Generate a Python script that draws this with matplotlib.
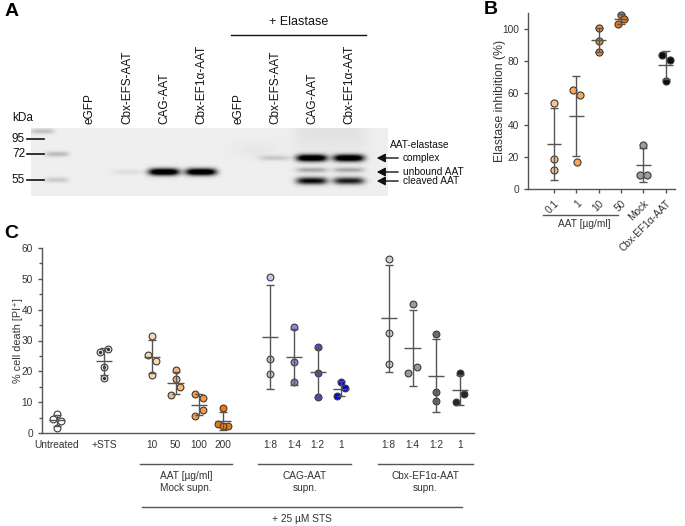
import numpy as np
import matplotlib
matplotlib.use("Agg")
import matplotlib.pyplot as plt
from matplotlib.ticker import MultipleLocator

plt.rcParams["font.family"] = ["Liberation Sans", "DejaVu Sans"]

W, H = 685, 526
TXT = "#333333"
LINE = "#555555"


def rect(x0, y0, x1, y1):
    # pixel box -> figure fraction
    return [x0 / W, 1 - y1 / H, (x1 - x0) / W, (y1 - y0) / H]


# ---------------- panel A: western blot ----------------
lane_labels = ["eGFP", "Cbx-EFS-AAT", "CAG-AAT", "Cbx-EF1α-AAT",
               "eGFP", "Cbx-EFS-AAT", "CAG-AAT", "Cbx-EF1α-AAT"]
marker_kda = ["95", "72", "55"]
marker_mig = [139, 154, 180]
# bands: lane index, migration, intensity (marker lane = -0.95)
band_lane = [1, 2, 3, 5, 6, 6, 6, 7, 7, 7, -0.9, -0.9, -1.3]
band_mig = [172, 172, 172, 158, 158, 170, 181, 158, 170, 181, 154, 180, 131]
band_int = [0.07, 1.3, 1.3, 0.16, 1.3, 0.3, 1.0, 1.3, 0.3, 0.9, 0.22, 0.16, 0.2]
band_names = ["AAT-elastase", "complex", "unbound AAT", "cleaved AAT"]
band_arrow_mig = [158, 172, 181]

# ---------------- panel B: elastase inhibition ----------------
b_labels = ["0.1", "1", "10", "50", "Mock", "Cbx-EF1α-AAT"]
b_vals = [[54, 19, 12], [62, 58.5, 17], [100.5, 92.5, 85.5],
          [109, 106.5, 103], [27.5, 9, 9], [84, 80.5, 67.5]]
b_colors = ["#fbc48c", "#f8a85a", "#ee8f35", "#ea7516", "#9c9c9c", "#0d0d0d"]

# ---------------- panel C: cell death ----------------
c_labels = ["Untreated", "+STS", "10", "50", "100", "200",
            "1:8", "1:4", "1:2", "1", "1:8", "1:4", "1:2", "1"]
c_vals = [[6.2, 4.5, 4.0, 1.7], [26.4, 27.2, 21.5, 18.0],
          [31.6, 25.3, 23.4, 18.8], [20.4, 17.4, 14.8, 12.3],
          [12.6, 11.5, 7.4, 5.4], [8.2, 2.8, 2.4, 2.4],
          [50.5, 24.1, 19.1], [34.3, 23.0, 16.6], [27.8, 19.5, 11.7],
          [16.6, 14.6, 11.9], [56.5, 32.5, 22.5], [41.9, 21.3, 19.5],
          [32.2, 13.3, 10.4], [19.4, 12.6, 9.9]]
c_colors = ["#ffffff", "#e4e4e4", "#fdd8b2", "#f9b676", "#f59a45", "#f07a08",
            "#c4c4f0", "#8a8ae4", "#4c4cd2", "#0a0acc",
            "#cfcfcf", "#9a9a9a", "#6c6c6c", "#262626"]
c_groups = ["AAT [µg/ml]\nMock supn.", "CAG-AAT\nsupn.", "Cbx-EF1α-AAT\nsupn."]

# layout-only helpers (jitter of individual dots)
b_jit = [[0, 0, 0], [-0.15, 0.17, 0.02], [0, 0, 0], [0, 0.15, -0.15],
         [0, -0.15, 0.15], [-0.15, 0.18, 0]]
c_jit = [[0, -0.17, 0.17, 0], [-0.17, 0.17, 0, 0], [0, -0.17, 0.17, 0],
         [0, 0, 0.17, -0.17], [-0.17, 0.17, 0.17, -0.17], [0, -0.2, 0.2, 0],
         [0, 0, 0], [0, 0, 0], [0, 0, 0], [0, 0.17, -0.17],
         [0, 0, 0], [0, 0.17, -0.17], [0, 0, 0], [0, 0.17, -0.17]]
c_x = [0, 2, 4, 5, 6, 7, 9, 10, 11, 12, 14, 15, 16, 17]

fig = plt.figure(figsize=(W / 100, H / 100), dpi=100)

# ---- A ----
axA = fig.add_axes(rect(31, 128, 388, 196))
x0, x1 = (31 - 90) / 37, (388 - 90) / 37
gx = np.linspace(x0, x1, 600)
gy = np.linspace(128, 196, 140)
X, Y = np.meshgrid(gx, gy)
bg = 0.935 - 0.05 * np.exp(-((X - 6.5) / 1.0) ** 6) * np.exp(-((Y - 128) / 25) ** 2)
bg -= 0.03 * np.exp(-((X - 4.5) / 0.6) ** 2) * np.exp(-((Y - 150) / 8) ** 2)
dark = np.zeros_like(X)
for ln, mg, it in zip(band_lane, band_mig, band_int):
    wx = 0.42 if ln >= 0 else 0.32
    wy = 3.6 if it > 0.5 else 2.6
    dark += it * np.exp(-(np.abs(X - ln) / wx) ** 4) * np.exp(-((Y - mg) / wy) ** 2)
img = bg * (1 - np.clip(dark, 0, 1))
axA.imshow(img, cmap="gray", vmin=0, vmax=1, extent=(x0, x1, 196, 128),
           aspect="auto", interpolation="bilinear")
axA.set_xlim(x0, x1)
axA.set_ylim(196, 128)
axA.axis("off")

for i, lab in enumerate(lane_labels):
    axA.text(i, 124, lab, rotation=90, ha="center", va="bottom",
             fontsize=8.5, color="#111111", clip_on=False)
for lab, mg in zip(marker_kda, marker_mig):
    axA.plot([(27 - 90) / 37, (44 - 90) / 37], [mg, mg], color="#111111",
             lw=1.2, clip_on=False)
    axA.text((25 - 90) / 37, mg, lab, ha="right", va="center", fontsize=8.5,
             color="#111111", clip_on=False)
fig.text(12 / W, 1 - 118 / H, "kDa", fontsize=8.5, va="center", color="#111111")
fig.text(299 / W, 1 - 22 / H, "+ Elastase", fontsize=9, ha="center",
         va="center", color="#111111")
fig.add_artist(plt.Line2D([231 / W, 366 / W], [1 - 35 / H, 1 - 35 / H],
                          color="#111111", lw=1))

fig.text(390 / W, 1 - 145 / H, band_names[0], fontsize=7.3, va="center",
         color="#111111")
for name, mg in zip(band_names[1:], band_arrow_mig):
    fig.text(403 / W, 1 - mg / H, name, fontsize=7.3, va="center", color="#111111")
    fig.add_artist(matplotlib.patches.FancyArrowPatch(
        (401 / W, 1 - mg / H), (374 / W, 1 - mg / H), transform=fig.transFigure,
        arrowstyle="-|>,head_length=5,head_width=2.6", color="#111111", lw=1))

fig.text(5 / W, 1 - 11 / H, "A", fontsize=14, fontweight="bold", va="center")
fig.text(484 / W, 1 - 10 / H, "B", fontsize=14, fontweight="bold", va="center")
fig.text(4 / W, 1 - 233 / H, "C", fontsize=14, fontweight="bold", va="center")


def style(ax):
    for s in ["top", "right"]:
        ax.spines[s].set_visible(False)
    for s in ["left", "bottom"]:
        ax.spines[s].set_color(LINE)
        ax.spines[s].set_linewidth(1)
    ax.tick_params(colors=LINE, labelcolor=TXT, labelsize=7.3, width=1)


def dots(ax, xs, vals, jit, colors, half, ms):
    for x, v, j, c in zip(xs, vals, jit, colors):
        v = np.array(v)
        ax.scatter(x + np.array(j), v, s=ms, facecolor=c, edgecolor="#3a3a3a",
                   linewidth=0.8, zorder=2, clip_on=False)
        m, sd = v.mean(), v.std(ddof=1)
        ax.errorbar(x, m, yerr=sd, fmt="none", ecolor=LINE, elinewidth=1,
                    capsize=3, capthick=1, zorder=3, clip_on=False)
        ax.hlines(m, x - half, x + half, color=LINE, lw=1, zorder=3)


# ---- B ----
axB = fig.add_axes(rect(528, 13, 675, 189))
style(axB)
bx = np.arange(len(b_labels))
dots(axB, bx, b_vals, b_jit, b_colors, 0.33, 26)
axB.set_xlim((528 - 554) / 22.3, (675 - 554) / 22.3)
axB.set_ylim(0, 110)
axB.yaxis.set_major_locator(MultipleLocator(20))
axB.set_xticks(bx)
axB.set_xticklabels(b_labels, rotation=45, ha="right", va="top",
                    rotation_mode="anchor")
axB.tick_params(axis="both", length=3)
axB.set_ylabel("Elastase inhibition (%)", fontsize=8.8, color=TXT)
axB.yaxis.set_label_coords(-0.15, 0.5)
tb = axB.get_xaxis_transform()
axB.plot([-0.49, 2.87], [-0.148, -0.148], color=LINE, lw=1, transform=tb,
         clip_on=False)
axB.text(1.35, -0.2, "AAT [µg/ml]", transform=tb, ha="center", va="center",
         fontsize=7.3, color=TXT)

# ---- C ----
axC = fig.add_axes(rect(42, 248, 474, 433))
style(axC)
circ_jit = [np.array(j) for j in c_jit]
dots(axC, c_x, c_vals, c_jit, c_colors, 0.34, 24)
# dotted centre of the +STS markers
axC.scatter(c_x[1] + circ_jit[1], c_vals[1], s=2, color="#333333", zorder=2.5)
axC.set_xlim((42 - 57) / 23.7, (474 - 57) / 23.7)
axC.set_ylim(0, 60)
axC.yaxis.set_major_locator(MultipleLocator(10))
axC.yaxis.set_minor_locator(MultipleLocator(5))
axC.tick_params(axis="y", which="major", length=3)
axC.tick_params(axis="y", which="minor", length=2, width=1, colors=LINE)
axC.set_xticks(c_x)
axC.set_xticklabels(c_labels)
axC.tick_params(axis="x", length=0, pad=5)
axC.set_ylabel("% cell death [PI⁺]", fontsize=7.8, color=TXT)
axC.yaxis.set_label_coords(-0.045, 0.5)
tc = axC.get_xaxis_transform()
for (a, b), g, cx in zip([(3.5, 7.4), (8.48, 12.4), (13.55, 17.55)], c_groups,
                         [5.45, 10.45, 15.55]):
    axC.plot([a, b], [-0.168, -0.168], color=LINE, lw=1, transform=tc,
             clip_on=False)
    axC.text(cx, -0.205, g, transform=tc, ha="center", va="top", fontsize=7.3,
             color=TXT, linespacing=1.25)
axC.plot([3.59, 17.1], [-0.4, -0.4], color=LINE, lw=1, transform=tc,
         clip_on=False)
axC.text(10.35, -0.465, "+ 25 µM STS", transform=tc, ha="center", va="center",
         fontsize=7.3, color=TXT)

fig.savefig("out.png", dpi=100)
